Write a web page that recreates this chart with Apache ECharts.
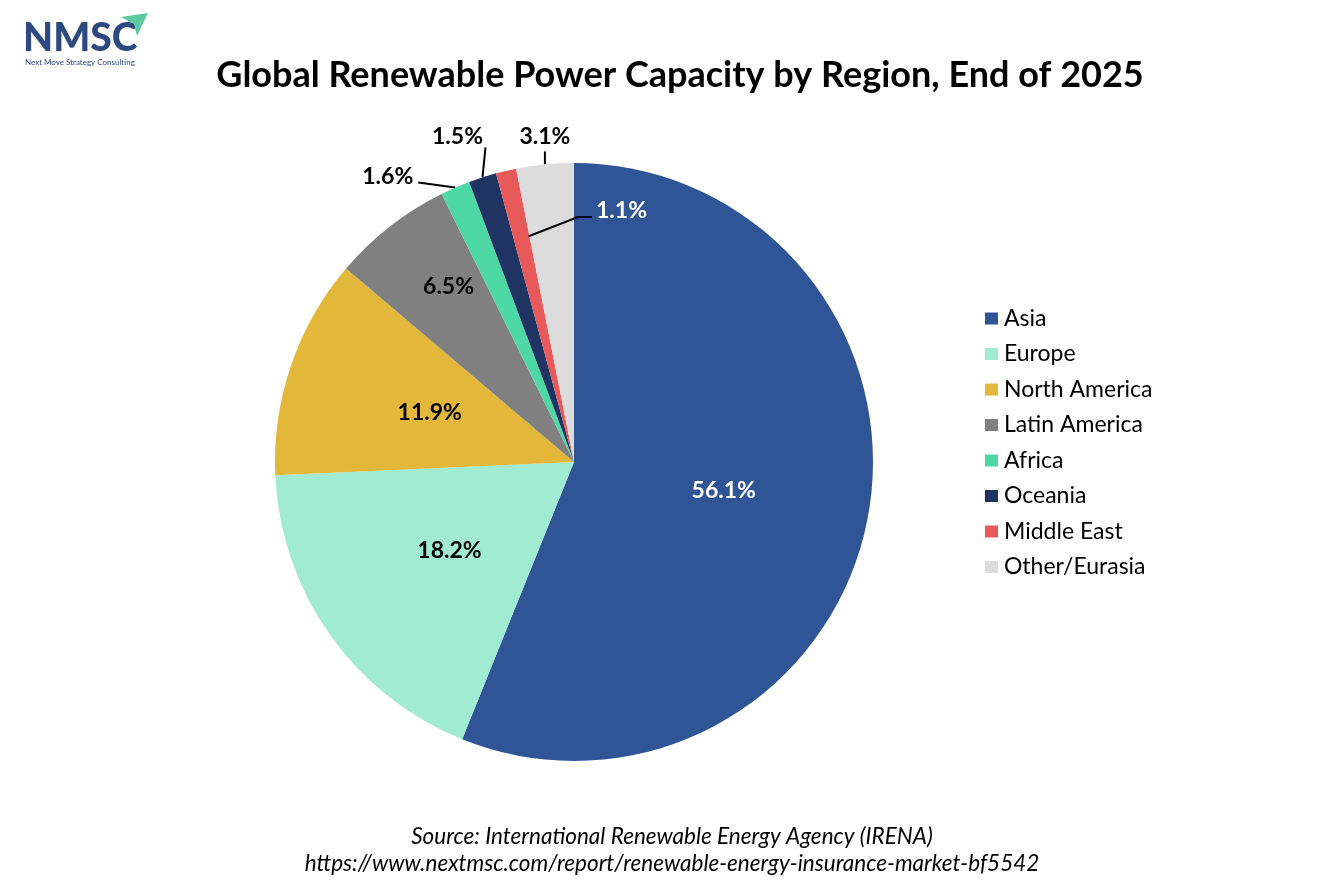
<!DOCTYPE html>
<html>
<head>
<meta charset="utf-8">
<script src="https://cdn.jsdelivr.net/npm/echarts@6/dist/echarts.min.js"></script>
<style>
html,body{margin:0;padding:0;background:#fff;}
#main{width:1334px;height:889px;}
</style>
</head>
<body>
<div id="main"></div>
<script>
const regions = ['Asia','Europe','North America','Latin America','Africa','Oceania','Middle East','Other/Eurasia'];
const shares = [56.1, 18.2, 11.9, 6.5, 1.6, 1.5, 1.1, 3.1];
const colors = ['#2f5597','#a1ebd3','#e2b73a','#808080','#4dd8a5','#1f3463','#e85a5a','#dcdcdc'];
const titleText = 'Global Renewable Power Capacity by Region, End of 2025';
const sourceLines = ['Source: International Renewable Energy Agency (IRENA)',
  'https://www.nextmsc.com/report/renewable-energy-insurance-market-bf5542'];

const FONT = 'Lato';
const chart = echarts.init(document.getElementById('main'));
const CX = 574, CY = 462, R = 299;
const total = shares.reduce((a,b)=>a+b,0);
function angleOf(i, frac){
  let before = 0;
  for (let k=0;k<i;k++) before += shares[k];
  return (before + shares[i]*frac)/total*Math.PI*2;
}
function pt(i, frac, rr){
  const a = angleOf(i, frac);
  return [CX + rr*Math.sin(a), CY - rr*Math.cos(a)];
}
const insideIdx = [0,1,2,3];
const data = regions.map((name,i)=>{
  const inside = insideIdx.includes(i);
  return {
    name, value: shares[i],
    itemStyle:{color:colors[i]},
    label:{
      position: inside ? 'inside' : 'outside',
      color: (i===0 || i===6) ? '#ffffff' : '#000000'
    },
    labelLine:{show: !inside && i!==6, lineStyle:{color:'#000', width:2}}
  };
});

// leader line for the Middle East label, which sits inside the Asia slice
const mePts = [pt(6,0.95,0.77*R),[CX+4,CY-245],[CX+18,CY-245]];

chart.setOption({
  backgroundColor:'#ffffff',
  animation:false,
  title:[{
    text:titleText, left:675, top:52, textAlign:'center',
    textStyle:{fontFamily:FONT, fontSize:36, fontWeight:'bold', color:'#000'}
  },{
    text:sourceLines[0], left:667, top:820, textAlign:'center',
    textStyle:{fontFamily:FONT, fontSize:22.5, fontStyle:'italic', fontWeight:'normal', color:'#000'}
  },{
    text:sourceLines[1], left:667, top:847, textAlign:'center',
    textStyle:{fontFamily:FONT, fontSize:22.5, fontStyle:'italic', fontWeight:'normal', color:'#000'}
  }],
  legend:{
    orient:'vertical', left:985, top:307, padding:0,
    icon:'rect', itemWidth:13, itemHeight:12, itemGap:12.5,
    textStyle:{fontFamily:FONT, fontSize:23, color:'#000', padding:[0,0,0,1]},
    data:regions
  },
  graphic:[
    {type:'text', left:23, top:19, style:{text:'NMSC', fontFamily:FONT, fontSize:39, fontWeight:900, fill:'#2d4a80', letterSpacing:1}},
    {type:'text', left:25, top:58, style:{text:'Next Move Strategy Consulting', fontFamily:FONT, fontSize:8, fill:'#2d4a80'}},
    {type:'polygon', shape:{points:[[121,17],[148,13],[137,36],[134,24]]}, style:{fill:'#5cc9a0'}},
    {type:'polyline', z:100, shape:{points:mePts}, style:{stroke:'#000', lineWidth:2, fill:null}}
  ],
  series:[{
    type:'pie',
    center:[CX, CY],
    radius:[0, R],
    startAngle:90,
    clockwise:true,
    avoidLabelOverlap:false,
    data,
    label:{fontFamily:FONT, fontSize:23, fontWeight:'bold', formatter:p=>p.value.toFixed(1)+'%'},
    labelLine:{length:15, length2:10},
    labelLayout:function(p){
      const i = p.dataIndex;
      if (i===3){
        const c = pt(3,0.6,0.72*R);
        return {x:c[0], y:c[1], align:'center', verticalAlign:'middle'};
      }
      if (i===7){
        const p0 = pt(7,0.5,R);
        return {x:p0[0], y:p0[1]-28, align:'center', verticalAlign:'middle',
          labelLinePoints:[p0,[p0[0],p0[1]-13],[p0[0],p0[1]-13]]};
      }
      if (i===5){
        const p0 = pt(5,0.5,R);
        return {x:p0[0]-25, y:p0[1]-41, align:'center', verticalAlign:'middle',
          labelLinePoints:[p0,[p0[0]+3,p0[1]-30],[p0[0]+3,p0[1]-30]]};
      }
      if (i===4){
        const p0 = pt(4,0.5,R);
        return {x:p0[0]-42, y:p0[1]-11, align:'right', verticalAlign:'middle',
          labelLinePoints:[p0,[p0[0]-37,p0[1]-5],[p0[0]-37,p0[1]-5]]};
      }
      if (i===6){
        return {x:CX+22, y:CY-251, align:'left', verticalAlign:'middle'};
      }
      return {};
    }
  }]
});
</script>
</body>
</html>
